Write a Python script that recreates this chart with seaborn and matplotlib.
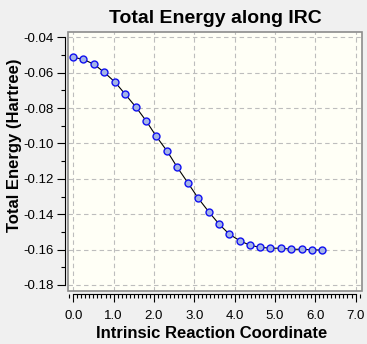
import matplotlib
matplotlib.use("Agg")
import matplotlib.pyplot as plt
from matplotlib.patches import Rectangle
from matplotlib.ticker import MultipleLocator, FormatStrFormatter
import numpy as np
import pandas as pd
import seaborn as sns

# IRC path: reaction coordinate and total energy (Hartree)
coord = [0.00, 0.25, 0.52, 0.77, 1.04, 1.29, 1.56, 1.81, 2.06, 2.33,
         2.58, 2.85, 3.10, 3.37, 3.62, 3.87, 4.14, 4.39, 4.64, 4.89,
         5.16, 5.41, 5.68, 5.93, 6.18]
energy = [-0.0513, -0.0524, -0.0553, -0.0598, -0.0654, -0.0722, -0.0796,
          -0.0873, -0.0960, -0.1044, -0.1135, -0.1225, -0.1310, -0.1389,
          -0.1457, -0.1513, -0.1551, -0.1576, -0.1587, -0.1592, -0.1592,
          -0.1598, -0.1598, -0.1602, -0.1602]
x_ticks = [0.0, 1.0, 2.0, 3.0, 4.0, 5.0, 6.0, 7.0]
y_ticks = [-0.04, -0.06, -0.08, -0.10, -0.12, -0.14, -0.16, -0.18]

df = pd.DataFrame({"coord": coord, "energy": energy})

sns.set_theme(style="white")
plt.rcParams["font.family"] = ["Liberation Sans", "DejaVu Sans"]

BG = "#F0F0F0"
fig = plt.figure(figsize=(3.67, 3.44), dpi=100, facecolor=BG)
ax = fig.add_axes([68 / 367, 53 / 344, 294 / 367, 259.3 / 344])
ax.set_facecolor("#FFFFF6")

sns.lineplot(data=df, x="coord", y="energy", ax=ax, color="black",
             linewidth=0.8, marker="o", markersize=5,
             markerfacecolor="#A4B4E6", markeredgecolor="#1010F0",
             markeredgewidth=1.0, sort=False)

ax.set_xlim(-0.13, 7.16)
ax.set_ylim(-0.1834, -0.0368)

ax.set_xticks(x_ticks)
ax.set_yticks(y_ticks)
ax.xaxis.set_major_formatter(FormatStrFormatter("%.1f"))
ax.yaxis.set_major_formatter(FormatStrFormatter("%.2f"))
ax.xaxis.set_minor_locator(MultipleLocator(0.1))
ax.yaxis.set_minor_locator(MultipleLocator(0.01))

ax.grid(True, which="major", color="#BDBDBD", linestyle=(0, (4, 3)),
        linewidth=0.8)

# detached rulers for the axes
for side in ("top", "right"):
    ax.spines[side].set_visible(False)
for side in ("left", "bottom"):
    ax.spines[side].set_visible(True)
    ax.spines[side].set_color("black")
    ax.spines[side].set_linewidth(0.8)
    ax.spines[side].set_position(("outward", 2.5))
ax.spines["left"].set_bounds(-0.18, -0.04)
ax.spines["bottom"].set_bounds(0.0, 7.0)

ax.tick_params(axis="both", which="major", direction="out", length=6,
               width=0.8, color="black", labelsize=9.5, labelcolor="black",
               left=True, bottom=True)
ax.tick_params(axis="both", which="minor", direction="out", length=3,
               width=0.8, color="black", left=True, bottom=True)
ax.tick_params(axis="x", which="major", pad=5)
ax.tick_params(axis="y", which="major", pad=2)

# gray frame around the plotting area
ax.add_patch(Rectangle((0, 0), 1, 1, transform=ax.transAxes, fill=False,
                       edgecolor="#8C8C8C", linewidth=1.2, clip_on=False,
                       zorder=5))

ax.set_title("Total Energy along IRC", fontsize=14, fontweight="bold",
             color="black", pad=6)
ax.set_xlabel("Intrinsic Reaction Coordinate", fontsize=12,
              fontweight="bold", color="black")
ax.set_ylabel("Total Energy (Hartree)", fontsize=12, fontweight="bold",
              color="black")
ax.xaxis.set_label_coords(0.49, -0.135)
ax.yaxis.set_label_coords(-0.158, 0.563)

fig.savefig("out.png", dpi=100, facecolor=BG)
